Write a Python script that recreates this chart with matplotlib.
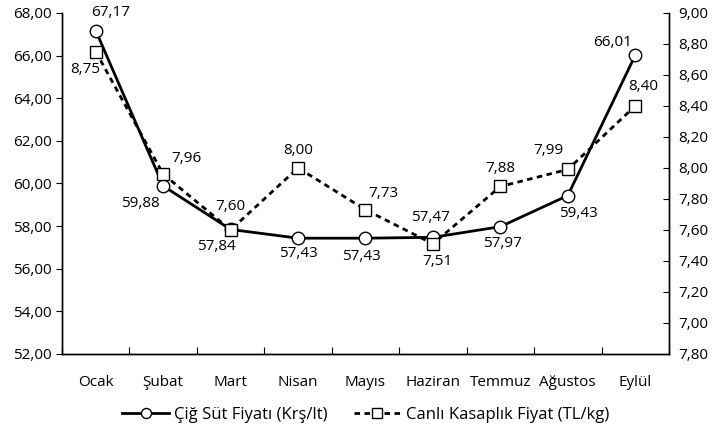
import numpy as np
import matplotlib
matplotlib.use("Agg")
import matplotlib.pyplot as plt
from matplotlib.ticker import FixedLocator, FixedFormatter

plt.rcParams['font.family'] = ['Open Sans', 'DejaVu Sans']
plt.rcParams['font.size'] = 11

months = ["Ocak", "Şubat", "Mart", "Nisan", "Mayıs", "Haziran", "Temmuz", "Ağustos", "Eylül"]
milk = [67.17, 59.88, 57.84, 57.43, 57.43, 57.47, 57.97, 59.43, 66.01]
meat = [8.75, 7.96, 7.60, 8.00, 7.73, 7.51, 7.88, 7.99, 8.40]
left_ticks = [52, 54, 56, 58, 60, 62, 64, 66, 68]
right_ticks = [6.8, 7.0, 7.2, 7.4, 7.6, 7.8, 8.0, 8.2, 8.4, 8.6, 8.8, 9.0]
right_labels = ["7,80", "7,00", "7,20", "7,40", "7,60", "7,80", "8,00", "8,20", "8,40", "8,60", "8,80", "9,00"]

# label offsets in pixels (dx, dy)
milk_off = [(15, 18), (-23, -18), (-14, -17), (0, -15), (-4, -18), (-2, 20), (2, -17), (11, -18), (-23, 13)]
meat_off = [(-10, -18), (23, 16), (0, 23), (0, 17), (18, 16), (4, -18), (0, 18), (-19, 19), (8, 19)]

def fmt(v):
    return ("%.2f" % v).replace(".", ",")

fig = plt.figure(figsize=(7.17, 4.29), dpi=100)
ax = fig.add_axes([0.0865, 0.175, 0.8465, 0.795])
ax2 = ax.twinx()

x = np.arange(len(months))
l1, = ax.plot(x, milk, color="black", lw=2, marker="o", ms=9, mfc="white", mec="black", mew=1,
              label="Çiğ Süt Fiyatı (Krş/lt)")
l2, = ax2.plot(x, meat, color="black", lw=2, ls=(0, (2, 1.6)), marker="s", ms=8.5, mfc="white",
               mec="black", mew=1, label="Canlı Kasaplık Fiyat (TL/kg)")

for i in range(len(x)):
    ax.annotate(fmt(milk[i]), (x[i], milk[i]), xytext=milk_off[i], textcoords="offset pixels",
                ha="center", va="center")
    ax2.annotate(fmt(meat[i]), (x[i], meat[i]), xytext=meat_off[i], textcoords="offset pixels",
                 ha="center", va="center")

ax.set_xlim(-0.5, 8.5)
ax.set_ylim(52, 68)
ax2.set_ylim(6.8, 9.0)

ax.xaxis.set_major_locator(FixedLocator(np.arange(-0.5, 9, 1)))
ax.xaxis.set_major_formatter(FixedFormatter([""] * 10))
ax.xaxis.set_minor_locator(FixedLocator(x))
ax.xaxis.set_minor_formatter(FixedFormatter(months))
ax.tick_params(axis="x", which="major", direction="in", length=5)
ax.tick_params(axis="x", which="minor", length=0, pad=15, labelsize=11)

ax.set_yticks(left_ticks)
ax.set_yticklabels([fmt(v) for v in left_ticks])
ax.tick_params(axis="y", direction="out", length=4, labelsize=11)

ax2.yaxis.set_major_locator(FixedLocator(right_ticks))
ax2.yaxis.set_major_formatter(FixedFormatter(right_labels))
ax2.tick_params(axis="y", direction="in", length=4, labelsize=11, pad=7)

for a in (ax, ax2):
    a.spines["top"].set_visible(False)
    for s in ("left", "right", "bottom"):
        a.spines[s].set_linewidth(1)

fig.legend([l1, l2], [l1.get_label(), l2.get_label()], loc="center", bbox_to_anchor=(0.51, 0.033),
           ncol=2, frameon=False, fontsize=12, handlelength=2.8, columnspacing=1.6, handletextpad=0.3,
           markerscale=0.8)

plt.savefig("out.png", dpi=100)
